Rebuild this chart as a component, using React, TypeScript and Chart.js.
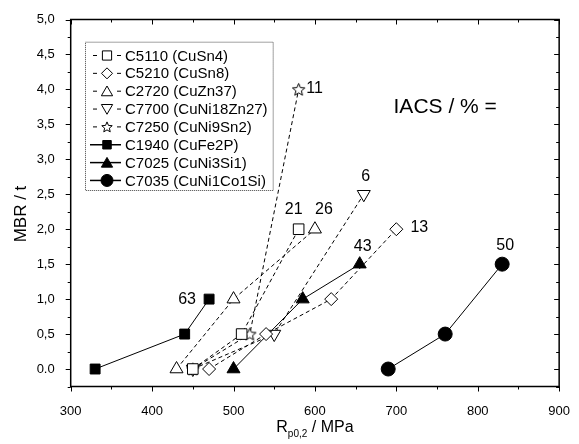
import React, { useEffect, useRef } from 'react';
import { Chart, registerables } from 'chart.js';

Chart.register(...registerables);

const FONT = "'Liberation Sans', Arial, Helvetica, sans-serif";

// ---- data ----
const seriesNames = [
  'C5110 (CuSn4)',
  'C5210 (CuSn8)',
  'C2720 (CuZn37)',
  'C7700 (CuNi18Zn27)',
  'C7250 (CuNi9Sn2)',
  'C1940 (CuFe2P)',
  'C7025 (CuNi3Si1)',
  'C7035 (CuNi1Co1Si)',
];
const c5110X = [450, 510, 580];
const c5110Y = [0, 0.5, 2.0];
const c5210X = [470, 540, 620, 700];
const c5210Y = [0, 0.5, 1.0, 2.0];
const c2720X = [430, 500, 600];
const c2720Y = [0, 1.0, 2.0];
const c7700X = [450, 550, 660];
const c7700Y = [0, 0.5, 2.5];
const c7250X = [450, 520, 580];
const c7250Y = [0, 0.5, 4.0];
const c1940X = [330, 440, 470];
const c1940Y = [0, 0.5, 1.0];
const c7025X = [500, 585, 655];
const c7025Y = [0, 1.0, 1.5];
const c7035X = [690, 760, 830];
const c7035Y = [0, 0.5, 1.5];
const iacsLabels = ['21', '13', '26', '6', '11', '63', '43', '50'];

const xTickValues = [300, 400, 500, 600, 700, 800, 900];
const xTickLabels = ['300', '400', '500', '600', '700', '800', '900'];
const yTickValues = [0, 0.5, 1, 1.5, 2, 2.5, 3, 3.5, 4, 4.5, 5];
const yTickLabels = ['0.0', '0,5', '1,0', '1,5', '2,0', '2,5', '3,0', '3,5', '4,0', '4,5', '5,0'];

// ---- styling per series (not data) ----
const styles = [
  { shape: 'rect', filled: false, dashed: true, r: 7.5 },
  { shape: 'rectRot', filled: false, dashed: true, r: 6.5 },
  { shape: 'triangle', filled: false, dashed: true, r: 7.5 },
  { shape: 'triangleDown', filled: false, dashed: true, r: 7.5 },
  { shape: 'star', filled: false, dashed: true, r: 6.5 },
  { shape: 'rect', filled: true, dashed: false, r: 7 },
  { shape: 'triangle', filled: true, dashed: false, r: 7.5 },
  { shape: 'circle', filled: true, dashed: false, r: 7 },
];
// label offsets relative to the last point of each series (pixels)
const labelOffsets = [
  [-5, -20], [23, -2], [9, -20], [2, -18], [16, -1], [-22, 0], [3, -18], [3, -19],
];

function starPath(g: CanvasRenderingContext2D, cx: number, cy: number, ro: number, ri: number) {
  g.beginPath();
  for (let i = 0; i < 10; i++) {
    const rr = i % 2 === 0 ? ro : ri;
    const a = -Math.PI / 2 + (i * Math.PI) / 5;
    const px = cx + Math.cos(a) * rr;
    const py = cy + Math.sin(a) * rr;
    if (i === 0) g.moveTo(px, py);
    else g.lineTo(px, py);
  }
  g.closePath();
}

function makeStar(r: number) {
  const size = Math.ceil(r * 2 + 4);
  const c = document.createElement('canvas');
  c.width = size;
  c.height = size;
  const g = c.getContext('2d')!;
  starPath(g, size / 2, size / 2 + 0.5, r, r * 0.45);
  g.fillStyle = '#fff';
  g.fill();
  g.strokeStyle = '#000';
  g.lineWidth = 1;
  g.stroke();
  return c;
}

function drawMarker(g: CanvasRenderingContext2D, shape: string, filled: boolean, x: number, y: number, r: number) {
  g.save();
  g.lineWidth = 1;
  g.strokeStyle = '#000';
  g.fillStyle = filled ? '#000' : '#fff';
  g.setLineDash([]);
  g.beginPath();
  if (shape === 'rect') {
    const s = r * Math.SQRT1_2;
    g.rect(x - s, y - s, 2 * s, 2 * s);
  } else if (shape === 'rectRot') {
    g.moveTo(x, y - r);
    g.lineTo(x + r, y);
    g.lineTo(x, y + r);
    g.lineTo(x - r, y);
    g.closePath();
  } else if (shape === 'triangle' || shape === 'triangleDown') {
    const sgn = shape === 'triangle' ? 1 : -1;
    for (let i = 0; i < 3; i++) {
      const a = (i * 2 * Math.PI) / 3;
      const px = x + Math.sin(a) * r;
      const py = y - sgn * Math.cos(a) * r + sgn * r * 0.2;
      if (i === 0) g.moveTo(px, py);
      else g.lineTo(px, py);
    }
    g.closePath();
  } else if (shape === 'star') {
    starPath(g, x, y + 0.5, r, r * 0.45);
  } else {
    g.arc(x, y, r, 0, Math.PI * 2);
  }
  g.fill();
  g.stroke();
  g.restore();
}

const annotPlugin = {
  id: 'annot',
  afterDraw(chart: any) {
    const { ctx, chartArea: a, scales } = chart;
    const xs = scales.x;
    const ys = scales.y;
    ctx.save();
    ctx.strokeStyle = '#000';
    ctx.fillStyle = '#000';

    // frame
    ctx.lineWidth = 1.5;
    ctx.setLineDash([]);
    ctx.strokeRect(a.left, a.top, a.right - a.left, a.bottom - a.top);

    // ticks
    ctx.lineWidth = 1;
    ctx.beginPath();
    for (let v = 300; v <= 900; v += 50) {
      const px = Math.round(xs.getPixelForValue(v)) + 0.5;
      const len = v % 100 === 0 ? 5 : 3;
      ctx.moveTo(px, a.bottom);
      ctx.lineTo(px, a.bottom + len);
      ctx.moveTo(px, a.top);
      ctx.lineTo(px, a.top + len);
    }
    for (let v = -0.25; v <= 5.001; v += 0.25) {
      const py = Math.round(ys.getPixelForValue(v)) + 0.5;
      const major = Math.abs(v * 2 - Math.round(v * 2)) < 1e-6;
      const len = major ? 5 : 3;
      ctx.moveTo(a.left, py);
      ctx.lineTo(a.left - len, py);
      ctx.moveTo(a.right, py);
      ctx.lineTo(a.right - len, py);
    }
    ctx.stroke();

    // point labels
    const all = chart.data.datasets;
    ctx.font = `16px ${FONT}`;
    ctx.textAlign = 'center';
    ctx.textBaseline = 'middle';
    all.forEach((ds: any, i: number) => {
      const last = ds.data[ds.data.length - 1];
      const px = xs.getPixelForValue(last.x) + labelOffsets[i][0];
      const py = ys.getPixelForValue(last.y) + labelOffsets[i][1];
      ctx.fillText(iacsLabels[i], px, py);
    });

    // IACS text
    ctx.font = `21px ${FONT}`;
    ctx.fillText('IACS / % =', xs.getPixelForValue(760), ys.getPixelForValue(3.74));

    // legend
    const lx = 85, ly = 41.7, lw = 187.7, lh = 148.3;
    ctx.save();
    ctx.strokeStyle = '#444';
    ctx.lineWidth = 1;
    ctx.setLineDash([1, 1]);
    ctx.strokeRect(lx + 0.5, ly + 0.5, lw, lh);
    ctx.restore();
    ctx.font = `15px ${FONT}`;
    ctx.textAlign = 'left';
    seriesNames.forEach((name, i) => {
      const st = styles[i];
      const ry = 55.5 + i * 17.85;
      const mx = 107;
      ctx.save();
      ctx.lineWidth = st.dashed ? 1 : 1.5;
      ctx.beginPath();
      if (st.dashed) {
        ctx.moveTo(93, ry);
        ctx.lineTo(97, ry);
        ctx.moveTo(117, ry);
        ctx.lineTo(121, ry);
      } else {
        ctx.moveTo(90, ry);
        ctx.lineTo(121, ry);
      }
      ctx.stroke();
      ctx.restore();
      drawMarker(ctx, st.shape, st.filled, mx, ry, st.shape === 'circle' ? 6 : st.r - 1);
      ctx.fillText(name, 125, ry + 1);
    });

    // axis titles
    ctx.textBaseline = 'alphabetic';
    const big = `16px ${FONT}`;
    const small = `10px ${FONT}`;
    ctx.font = big;
    const wR = ctx.measureText('R').width;
    const wTail = ctx.measureText(' / MPa').width;
    ctx.font = small;
    const wSub = ctx.measureText('p0,2').width;
    const total = wR + wSub + wTail;
    let tx = xs.getPixelForValue(600) - total / 2;
    const base = 432;
    ctx.font = big;
    ctx.fillText('R', tx, base);
    tx += wR;
    ctx.font = small;
    ctx.fillText('p0,2', tx, base + 5);
    tx += wSub;
    ctx.font = big;
    ctx.fillText(' / MPa', tx, base);

    ctx.save();
    ctx.translate(21, 214);
    ctx.rotate(-Math.PI / 2);
    ctx.font = `17px ${FONT}`;
    ctx.textAlign = 'center';
    ctx.textBaseline = 'middle';
    ctx.fillText('MBR / t', 0, 0);
    ctx.restore();

    ctx.restore();
  },
};

function toPoints(xs: number[], ys: number[]) {
  return xs.map((x, i) => ({ x, y: ys[i] }));
}

export default function App() {
  const ref = useRef<HTMLCanvasElement>(null);
  useEffect(() => {
    if (!ref.current) return;
    const star = makeStar(6.5);
    const xsArr = [c5110X, c5210X, c2720X, c7700X, c7250X, c1940X, c7025X, c7035X];
    const ysArr = [c5110Y, c5210Y, c2720Y, c7700Y, c7250Y, c1940Y, c7025Y, c7035Y];
    const datasets = seriesNames.map((name, i) => {
      const st = styles[i];
      let pointStyle: any = st.shape;
      let rotation = 0;
      if (st.shape === 'triangleDown') {
        pointStyle = 'triangle';
        rotation = 180;
      }
      if (st.shape === 'star') pointStyle = star;
      return {
        label: name,
        data: toPoints(xsArr[i], ysArr[i]),
        showLine: true,
        borderColor: '#000',
        borderWidth: 1,
        borderDash: st.dashed ? [4, 3] : [],
        pointStyle,
        pointRotation: rotation,
        pointRadius: st.r,
        pointHoverRadius: st.r,
        pointBorderWidth: 1,
        pointBorderColor: '#000',
        pointBackgroundColor: st.filled ? '#000' : '#fff',
        fill: false,
        tension: 0,
      };
    });
    const chart = new Chart(ref.current, {
      type: 'scatter',
      data: { datasets },
      options: {
        animation: false,
        responsive: false,
        devicePixelRatio: 1,
        layout: { padding: { top: 19.5, right: 13, left: 0, bottom: 0 } },
        plugins: { legend: { display: false }, tooltip: { enabled: false } },
        scales: {
          x: {
            type: 'linear',
            min: 300,
            max: 900,
            grid: { display: false },
            border: { display: false },
            afterFit: (s: any) => { s.height = 57.5; },
            afterBuildTicks: (s: any) => { s.ticks = xTickValues.map((v) => ({ value: v })); },
            ticks: {
              color: '#000',
              font: { family: FONT, size: 13 },
              padding: 9,
              maxRotation: 0,
              callback: (_v: any, i: number) => xTickLabels[i],
            },
          },
          y: {
            type: 'linear',
            min: -0.25,
            max: 5,
            grid: { display: false },
            border: { display: false },
            afterFit: (s: any) => { s.width = 70.7; },
            afterBuildTicks: (s: any) => { s.ticks = yTickValues.map((v) => ({ value: v })); },
            ticks: {
              color: '#000',
              font: { family: FONT, size: 13 },
              padding: 8,
              callback: (_v: any, i: number) => yTickLabels[i],
            },
          },
        },
      },
      plugins: [annotPlugin],
    } as any);
    return () => chart.destroy();
  }, []);
  return (
    <div style={{ position: 'fixed', left: 0, top: 0, width: 579, height: 444, background: '#fff' }}>
      <canvas ref={ref} width={579} height={444} />
    </div>
  );
}
